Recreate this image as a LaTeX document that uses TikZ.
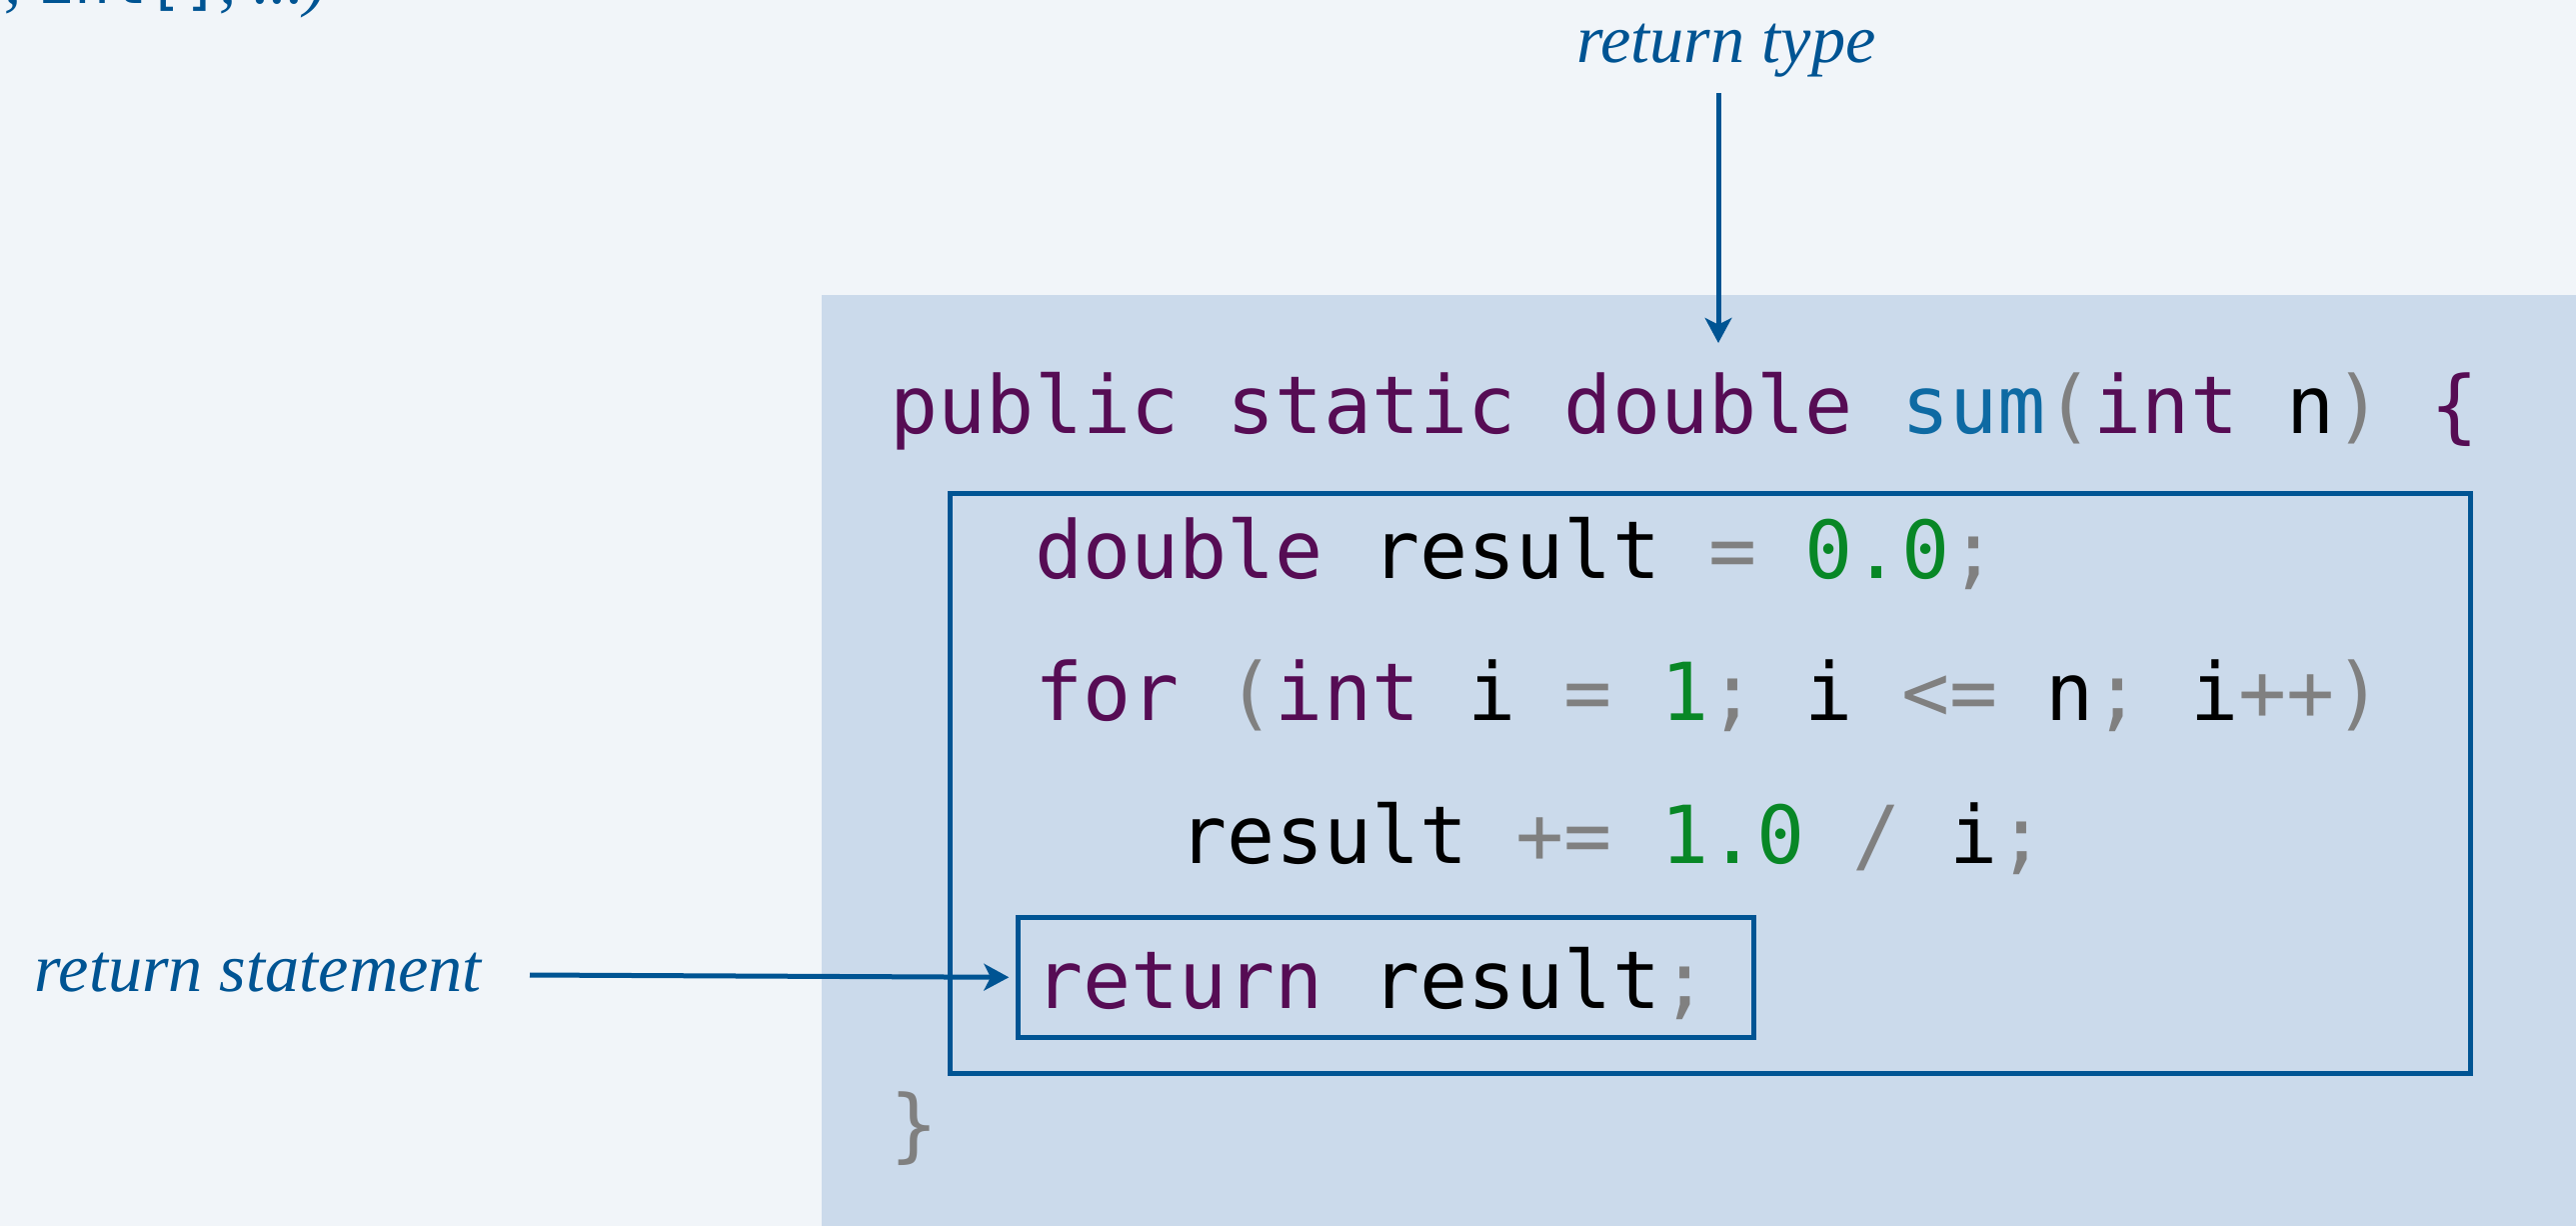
\documentclass[tikz,border=0pt]{standalone}
\usepackage{fontspec}
\setmainfont{Liberation Serif}
\newfontfamily\codefont{DejaVu Sans Mono}
\usetikzlibrary{arrows.meta}
\definecolor{pagebg}{RGB}{241,245,249}
\definecolor{panelbg}{RGB}{203,218,235}
\definecolor{annblue}{RGB}{0,84,147}
\definecolor{kwpurple}{RGB}{86,12,84}
\definecolor{fnblue}{RGB}{14,106,163}
\definecolor{numgreen}{RGB}{8,135,38}
\definecolor{opgray}{RGB}{128,128,128}
% syntax colouring helpers
\newcommand\kw[1]{\textcolor{kwpurple}{#1}}
\newcommand\fn[1]{\textcolor{fnblue}{#1}}
\newcommand\nm[1]{\textcolor{numgreen}{#1}}
\newcommand\op[1]{\textcolor{opgray}{#1}}
\newcommand\id[1]{\textcolor{black}{#1}}

\begin{document}
\begin{tikzpicture}[x=0.3pt,y=-0.3pt,
  codeline/.style={anchor=base west, inner sep=0pt, font=\codefont\fontsize{24}{28}\selectfont},
  annot/.style={font=\itshape\fontsize{20.5}{24}\selectfont, text=annblue, inner sep=0pt},
  frame/.style={draw=annblue, line width=1.4pt, inner sep=0pt, anchor=north west},
  pointer/.style={draw=annblue, line width=1.5pt, -{Stealth[length=7.5pt,width=8pt,inset=2pt]}}]

  % page and code panel
  \fill[pagebg] (0,0) rectangle (2577,1226);
  \useasboundingbox (0,0) rectangle (2577,1226);
  \fill[panelbg] (822,295) rectangle (2577,1226);

  % label running off the top edge
  \node[annot, anchor=base west] (sig) at (4,3)
    {,\ {\upshape\codefont\fontsize{18}{20}\selectfont int[]}, ...)};

  % method body frames
  \node[frame, minimum width=456.3pt, minimum height=174pt] (body) at (948,491) {};
  \node[frame, minimum width=220.8pt, minimum height=36pt] (retbox) at (1016,915) {};

  % code
  \node[codeline] (l1) at (890,433)
    {\kw{public}\ \kw{static}\ \kw{double}\ \fn{sum}\op{(}\kw{int}\ \id{n}\op{)}\ \kw{\{}};
  \node[codeline] (l2) at (1034.5,578)
    {\kw{double}\ \id{result}\ \op{=}\ \nm{0.0}\op{;}};
  \node[codeline] (l3) at (1034.5,720)
    {\kw{for}\ \op{(}\kw{int}\ \id{i}\ \op{=}\ \nm{1}\op{;}\ \id{i}\ \op{<=}\ \id{n}\op{;}\ \id{i}\op{++)}};
  \node[codeline] (l4) at (1179,863)
    {\id{result}\ \op{+=}\ \nm{1.0}\ \op{/}\ \id{i}\op{;}};
  \node[codeline] (l5) at (1034.5,1008)
    {\kw{return}\ \id{result}\op{;}};
  \node[codeline] (l6) at (890,1152) {\op{\}}};

  % annotations
  \node[annot, anchor=base] (rt) at (1727,62) {return type};
  \node[annot, anchor=base west] (rs) at (34,991) {return statement};

  \coordinate (rtfrom) at (1719,93);
  \coordinate (rtto) at (1719,343);
  \draw[pointer] (rtfrom) -- (rtto);

  \coordinate (rsfrom) at (530,975);
  \draw[pointer, shorten >=2pt] (rsfrom) -- (retbox.west);
\end{tikzpicture}
\end{document}
